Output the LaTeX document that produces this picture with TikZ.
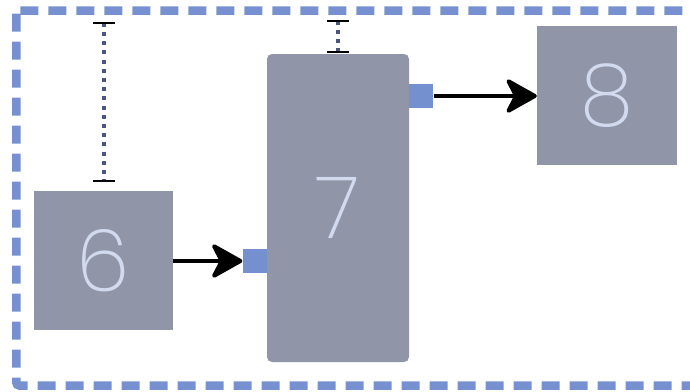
\documentclass[tikz,border=0pt]{standalone}
\usepackage{fontspec}
\newfontfamily\digfont{Poppins ExtraLight}
\usetikzlibrary{arrows.meta}
\definecolor{boxgray}{HTML}{9096A7}
\definecolor{digitc}{HTML}{D2DAF0}
\definecolor{portc}{HTML}{7590CF}
\definecolor{borderc}{HTML}{7690D0}
\definecolor{dotc}{HTML}{4B5680}
\tikzset{
  blk/.style={fill=boxgray, draw=none, inner sep=0pt, text=digitc, font=\digfont\fontsize{86}{86}\selectfont},
  port/.style={fill=portc, draw=none, minimum size=24pt, inner sep=0pt},
  flowhead/.tip={Stealth[length=35pt,width=39pt,inset=10pt,round]},
  flow/.style={line width=4pt, arrows={-flowhead}},
  gap/.style={dotc, line width=3.5pt, dash pattern=on 4pt off 5.2pt},
  barc/.style={line width=2pt, black},
}
\begin{document}
\begin{tikzpicture}[x=1pt,y=-1pt]
\useasboundingbox (0,0) rectangle (690,391);
\draw[borderc, line width=8.5pt, dash pattern=on 18pt off 10pt, rounded corners=3pt] (16.3,10.5) rectangle (720,385.5);
\node[blk, minimum width=139pt, minimum height=139pt] (n6) at (103.5,260.5) {6};
\node[blk, minimum width=142pt, minimum height=308pt, rounded corners=5pt] (n7) at (338,208) {7};
\node[blk, minimum width=140pt, minimum height=139pt] (n8) at (607,95.5) {8};
\node[port, anchor=east] (p7in) at (n7.west |- 0,261) {};
\node[port, anchor=west] (p7out) at (n7.east |- 0,96) {};
\draw[flow] (n6.east |- p7in) -- (p7in.west);
\draw[flow] (p7out.east) -- (n8.west |- p7out);
% spacing markers
\coordinate (g6t) at (104,22.7);
\coordinate (g6b) at (104,181);
\coordinate (g7t) at (338,20.7);
\coordinate (g7b) at (338,51.7);
\draw[gap] (g6t) -- (g6b);
\draw[gap] (g7t) -- (g7b);
\draw[barc] ([xshift=-11pt]g6t) -- ([xshift=11pt]g6t);
\draw[barc] ([xshift=-11pt]g6b) -- ([xshift=11pt]g6b);
\draw[barc] ([xshift=-11pt]g7t) -- ([xshift=11pt]g7t);
\draw[barc] ([xshift=-11pt]g7b) -- ([xshift=11pt]g7b);
\end{tikzpicture}
\end{document}
